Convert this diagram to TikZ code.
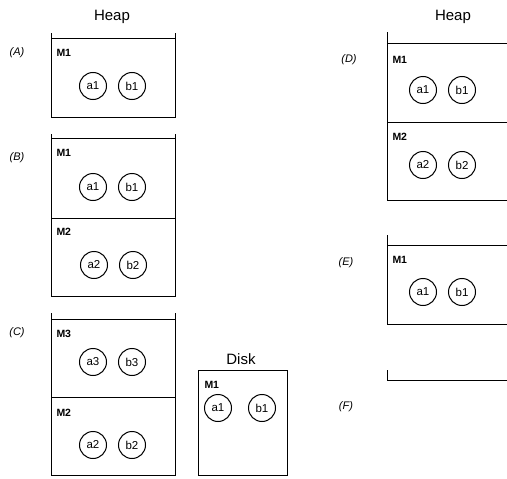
\documentclass[tikz,border=0pt]{standalone}
\usepackage{fontspec}
\setmainfont{Liberation Sans}
\begin{document}
\begin{tikzpicture}[x=1pt,y=-1pt,line width=1pt,
  obj/.style={draw,circle,minimum size=27pt,inner sep=0pt,font=\fontsize{11.5}{11.5}\selectfont},
  mlab/.style={anchor=west,inner sep=0pt,font=\fontsize{10.5}{10.5}\selectfont\bfseries},
  plab/.style={inner sep=0pt,font=\fontsize{11}{11}\selectfont\itshape},
  head/.style={inner sep=0pt,font=\fontsize{15}{15}\selectfont}]
\useasboundingbox (0,0) rectangle (507,479);
% headings
\node[head] (heapL) at (112,17) {Heap};
\node[head] (heapR) at (453,17) {Heap};
\node[head] (disk) at (241,359) {Disk};
% labels
\node[plab] (lA) at (17,53) {(A)};
\node[plab] (lB) at (17,158) {(B)};
\node[plab] (lC) at (17,333) {(C)};
\node[plab] (lD) at (349,60) {(D)};
\node[plab] (lE) at (346,263) {(E)};
\node[plab] (lF) at (346,407) {(F)};
% (A)
\draw (51,33) -- (51,117) -- (175,117) -- (175,33);
\draw (51,38) -- (175,38);
\node[mlab] (mA1) at (56,53) {M1};
\node[obj] (aA1) at (93,86) {a1};
\node[obj] (bA1) at (132,86) {b1};
% (B)
\draw (51,134) -- (51,296) -- (175,296) -- (175,134);
\draw (51,138) -- (175,138);
\draw (51,218) -- (175,218);
\node[mlab] (mB1) at (56,153) {M1};
\node[obj] (aB1) at (93,187) {a1};
\node[obj] (bB1) at (132,187) {b1};
\node[mlab] (mB2) at (56,232) {M2};
\node[obj] (aB2) at (94,265) {a2};
\node[obj] (bB2) at (133,265) {b2};
% (C)
\draw (51,313) -- (51,475) -- (175,475) -- (175,313);
\draw (51,319) -- (175,319);
\draw (51,397) -- (175,397);
\node[mlab] (mC3) at (56,334) {M3};
\node[obj] (aC3) at (93,362) {a3};
\node[obj] (bC3) at (132,362) {b3};
\node[mlab] (mC2) at (56,413) {M2};
\node[obj] (aC2) at (93,445) {a2};
\node[obj] (bC2) at (132,445) {b2};
% Disk
\draw (198,370) rectangle (287,475);
\node[mlab] (mDk) at (204,385) {M1};
\node[obj] (aDk) at (218,408) {a1};
\node[obj] (bDk) at (262,408) {b1};
% (D)
\draw (387,32) -- (387,200) -- (507,200);
\draw (387,43) -- (507,43);
\draw (387,122) -- (507,122);
\node[mlab] (mD1) at (392,60) {M1};
\node[obj] (aD1) at (423,90) {a1};
\node[obj] (bD1) at (462,90) {b1};
\node[mlab] (mD2) at (392,137) {M2};
\node[obj] (aD2) at (423,165) {a2};
\node[obj] (bD2) at (462,165) {b2};
% (E)
\draw (387,235) -- (387,324) -- (507,324);
\draw (387,245) -- (507,245);
\node[mlab] (mE1) at (392,260) {M1};
\node[obj] (aE1) at (423,292) {a1};
\node[obj] (bE1) at (462,292) {b1};
% (F)
\draw (387,370) -- (387,380) -- (507,380);
\end{tikzpicture}
\end{document}
